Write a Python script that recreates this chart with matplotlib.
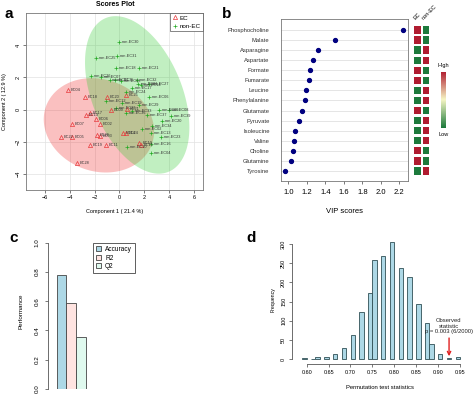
import numpy as np
import matplotlib
matplotlib.use("Agg")
import matplotlib.pyplot as plt
from matplotlib.patches import Rectangle, Patch
from matplotlib.lines import Line2D
from matplotlib.colors import LinearSegmentedColormap

plt.rcParams['font.family'] = ['Liberation Sans', 'DejaVu Sans']

# ---- a: PLS-DA scores ----
ec_x = [-4.1, -2.8, -1.0, 0.5, -0.7, 0.6, -2.4, -2.7, -1.9, -1.6, -3.8, -4.7, -3.8,
        -1.8, -1.6, -2.4, -1.1, -3.4, 0.3, 0.5, 1.6, 1.7]
ec_y = [1.2, 0.75, 0.8, 0.9, 0.0, 0.05, -0.2, -0.35, -0.6, -0.9, -0.9, -1.7, -1.7,
        -1.6, -1.65, -2.2, -2.2, -3.3, -1.45, -1.45, -2.1, -2.2]
ec_labels = ['EC04', 'EC18', 'EC20', 'EC25', 'EC09', 'EC21', 'EC17', 'EC13', 'EC06',
             'EC02', 'EC07', 'EC22', 'EC05', 'EC26', 'EC03', 'EC19', 'EC11', 'EC28',
             'EC14', 'EC24', 'EC10', 'EC15']

nonec_x = [0.0, -1.9, -0.2, -0.3, 1.6, -2.3, -1.5, -0.8, -0.4, 0.1, 1.4, 1.5, 2.4,
           1.7, 1.0, 0.5, 2.4, -1.1, 0.2, 1.6, 0.5, 1.0, 2.2, 3.2, 4.0, 4.1, 3.4, 2.6,
           1.8, 2.5, 3.3, 2.5, 2.5, 0.6, -0.3]
nonec_y = [4.2, 3.2, 3.3, 2.6, 2.6, 2.1, 2.0, 1.85, 1.85, 1.8, 1.85, 1.6, 1.6, 1.55,
           1.35, 1.1, 0.77, 0.5, 0.4, 0.3, -0.2, -0.1, -0.33, -0.05, -0.05, -0.4, -0.7,
           -1.05, -1.2, -1.43, -1.7, -2.15, -2.7, -2.3, 0.1]
nonec_labels = ['non-EC30', 'non-EC25', 'non-EC31', 'non-EC18', 'non-EC21', 'non-EC26',
                'non-EC07', 'non-EC11', 'non-EC35', 'non-EC03', 'non-EC32', 'non-EC01',
                'non-EC27', 'non-EC14', 'non-EC17', 'non-EC24', 'non-EC06', 'non-EC12',
                'non-EC19', 'non-EC29', 'non-EC36', 'non-EC33', 'non-EC37', 'non-EC09',
                'non-EC08', 'non-EC39', 'non-EC20', 'non-EC34', 'non-EC02', 'non-EC13',
                'non-EC23', 'non-EC16', 'non-EC04', 'non-EC10', 'non-EC22']

# confidence ellipses: centre and two conjugate semi-axis vectors (data units)
ec_ell = ((-1.65, -0.98), (4.24, -1.19), (1.27, 2.68))
nonec_ell = ((1.42, 0.91), (-2.51, 4.78), (3.35, 1.05))

# ---- b: VIP scores ----
metabolites = ['Phosphocholine', 'Malate', 'Asparagine', 'Aspartate', 'Formate',
               'Fumarate', 'Leucine', 'Phenylalanine', 'Glutamate', 'Pyruvate',
               'Isoleucine', 'Valine', 'Choline', 'Glutamine', 'Tyrosine']
vip_scores = [2.24, 1.51, 1.32, 1.27, 1.235, 1.224, 1.188, 1.185, 1.148, 1.119,
              1.076, 1.065, 1.047, 1.032, 0.968]
ec_high = [1, 1, 0, 0, 1, 1, 0, 0, 1, 0, 0, 0, 1, 1, 0]   # 1 = higher in EC
groups = ['EC', 'non-EC']

# ---- c: performance ----
perf_names = ['Accuracy', 'R2', 'Q2']
perf_values = [0.78, 0.585, 0.357]
perf_colors = ['#add8e6', '#ffe4e1', '#dff9ee']

# ---- d: permutation test ----
perm_bins = [0.595, 0.615, 0.625, 0.645, 0.665, 0.685, 0.705, 0.725, 0.745, 0.755,
             0.775, 0.795, 0.815, 0.835, 0.855, 0.875, 0.885, 0.905, 0.925, 0.945]
perm_counts = [2, 1, 4, 6, 13, 30, 62, 123, 172, 258, 270, 306, 237, 213, 143, 94,
               38, 13, 2, 4]
observed = 0.925
obs_text = 'Observed\nstatistic\np = 0.003 (6/2000)'

W, H = 474, 395
fig = plt.figure(figsize=(W / 100, H / 100), dpi=100)


def axes_px(l, t, r, b):
    return fig.add_axes([l / W, 1 - b / H, (r - l) / W, (b - t) / H])


def ftext(x, y, s, **kw):
    fig.text(x / W, 1 - y / H, s, **kw)


def ellipse_xy(ell):
    c, u, v = ell
    t = np.linspace(0, 2 * np.pi, 200)
    return (c[0] + u[0] * np.cos(t) + v[0] * np.sin(t),
            c[1] + u[1] * np.cos(t) + v[1] * np.sin(t))


tick_kw = dict(length=2, width=0.5, color='#444444', pad=1.5)

# ================= a =================
ax = axes_px(26, 13, 203, 190)
ax.set_xlim(-7.5, 6.7)
ax.set_ylim(-5.0, 6.0)
ax.set_xticks(range(-6, 7, 2))
ax.set_yticks(range(-4, 5, 2))
ax.grid(color='#e2e2e2', lw=0.5)
ax.set_axisbelow(True)
ex, ey = ellipse_xy(ec_ell)
ax.fill(ex, ey, color='#f03030', alpha=0.3, lw=0)
gx, gy = ellipse_xy(nonec_ell)
ax.fill(gx, gy, color='#33cc33', alpha=0.3, lw=0)
ax.plot(ec_x, ec_y, '^', ms=3, mfc='none', mec='#e8393c', mew=0.5, ls='none')
ax.plot(nonec_x, nonec_y, '+', ms=3, color='#22aa22', mew=0.5, ls='none')
for x, y, s in zip(ec_x, ec_y, ec_labels):
    ax.text(x + 0.22, y, s, fontsize=2.8, va='center', color='#333333')
for x, y, s in zip(nonec_x, nonec_y, nonec_labels):
    ax.text(x + 0.22, y, s, fontsize=2.8, va='center', color='#333333')
ax.tick_params(labelsize=4, **tick_kw)
for lab in ax.get_yticklabels():
    lab.set_rotation(90)
    lab.set_va('center')
for sp in ax.spines.values():
    sp.set_linewidth(0.6)
    sp.set_color('#777777')
handles = [Line2D([], [], marker='^', ls='none', ms=3, mfc='none', mec='#e8393c', mew=0.5),
           Line2D([], [], marker='+', ls='none', ms=3, color='#22aa22', mew=0.5)]
leg = ax.legend(handles, groups, loc='upper right', fontsize=4.5, fancybox=False,
                edgecolor='#555555', framealpha=1, borderpad=0.35, handletextpad=0.3,
                handlelength=1, borderaxespad=0)
leg.get_frame().set_linewidth(0.5)
ftext(115, 5, 'Scores Plot', fontsize=5, fontweight='bold', ha='center', va='center')
ftext(115, 212, 'Component 1 ( 21.4 %)', fontsize=4, ha='center', va='center')
ftext(5, 102, 'Component 2 ( 12.9 %)', fontsize=4, ha='center', va='center', rotation=90)

# ================= b =================
ax = axes_px(280.7, 19.3, 407.7, 181)
ypos = np.arange(len(metabolites), 0, -1)
ax.set_xlim(0.918, 2.29)
ax.set_ylim(0.007, 16.06)
for y in ypos:
    ax.axhline(y, color='#e0e0e0', lw=0.6, zorder=0)
ax.plot(vip_scores, ypos, 'o', color='#000080', ms=2.8, ls='none')
ax.set_xticks([1.0, 1.2, 1.4, 1.6, 1.8, 2.0, 2.2])
ax.set_xticklabels(['1.0', '1.2', '1.4', '1.6', '1.8', '2.0', '2.2'])
ax.set_yticks(ypos)
ax.set_yticklabels(metabolites)
ax.tick_params(axis='x', labelsize=5.5, length=2, width=0.5, color='#444444', pad=4)
ax.tick_params(axis='y', labelsize=4.2, length=0, pad=8, labelcolor='#333333')
for sp in ax.spines.values():
    sp.set_linewidth(0.6)
    sp.set_color('#777777')
ftext(344, 211.7, 'VIP scores', fontsize=5.5, ha='center', va='center')

hm = axes_px(414, 19.3, 430, 181)
hm.set_xlim(0, 2)
hm.set_ylim(0.007, 16.06)
hm.axis('off')
red, green = '#b01c30', '#1d7a3c'
for y, hi in zip(ypos, ec_high):
    hm.add_patch(Rectangle((0.05, y - 0.36), 0.84, 0.72, color=red if hi else green, lw=0))
    hm.add_patch(Rectangle((1.07, y - 0.36), 0.84, 0.72, color=green if hi else red, lw=0))
ftext(416, 21, groups[0], fontsize=4, rotation=45, ha='left', va='bottom', rotation_mode='anchor')
ftext(424, 21, groups[1], fontsize=4, rotation=45, ha='left', va='bottom', rotation_mode='anchor')

cmap = LinearSegmentedColormap.from_list('gr', ['#1d7a3c', '#f6f6c4', '#b01c30'])
cb = axes_px(441, 71.7, 446, 128)
cb.imshow(np.linspace(0, 1, 100)[:, None], cmap=cmap, aspect='auto', origin='lower')
cb.axis('off')
ftext(443.5, 66, 'High', fontsize=4, ha='center', va='center')
ftext(443.5, 134, 'Low', fontsize=4, ha='center', va='center')

# ================= c =================
ax = axes_px(48.3, 242.7, 235, 389)
ax.set_xlim(0.13, 19.4)
ax.set_ylim(0, 1)
xb = np.arange(len(perf_values)) + 1.5
ax.bar(xb, perf_values, width=1, color=perf_colors, edgecolor='#444444', lw=0.6)
for s in ['top', 'right', 'bottom']:
    ax.spines[s].set_visible(False)
ax.spines['left'].set_bounds(0, 1)
ax.spines['left'].set_linewidth(0.6)
ax.spines['left'].set_color('#555555')
ax.set_xticks([])
ax.set_yticks([0, 0.2, 0.4, 0.6, 0.8, 1.0])
ax.set_yticklabels(['0.0', '0.2', '0.4', '0.6', '0.8', '1.0'], rotation=90, va='center')
ax.tick_params(axis='y', labelsize=4.5, length=2.5, width=0.5, color='#444444', pad=4)
ftext(20.7, 311.7, 'Performance', fontsize=4.5, ha='center', va='center', rotation=90)
handles = [Patch(fc=c, ec='#444444', lw=0.6) for c in perf_colors]
leg = fig.legend(handles, perf_names, loc='upper left', bbox_to_anchor=(92.7 / W, 1 - 242.7 / H),
                 fontsize=4.7, fancybox=False, edgecolor='#444444', framealpha=1,
                 borderpad=0.5, handletextpad=0.6, handlelength=0.8, handleheight=0.8,
                 labelspacing=0.25, borderaxespad=0)
leg.get_frame().set_linewidth(0.6)

# ================= d =================
ax = axes_px(291.7, 238, 470, 364)
ax.set_xlim(0.5658, 0.9728)
ax.set_ylim(-13, 315.7)
ax.bar(perm_bins, perm_counts, width=0.0098, color='#add8e6', edgecolor='#2f4f55', lw=0.6)
for s in ['top', 'right']:
    ax.spines[s].set_visible(False)
ax.spines['bottom'].set_bounds(0.60, 0.95)
ax.spines['left'].set_bounds(0, 300)
for s in ['bottom', 'left']:
    ax.spines[s].set_linewidth(0.6)
    ax.spines[s].set_color('#555555')
ax.set_xticks([0.60, 0.65, 0.70, 0.75, 0.80, 0.85, 0.90, 0.95])
ax.set_xticklabels(['0.60', '0.65', '0.70', '0.75', '0.80', '0.85', '0.90', '0.95'])
ax.set_yticks([0, 50, 100, 150, 200, 250, 300])
ax.set_yticklabels(['0', '50', '100', '150', '200', '250', '300'], rotation=90, va='center')
ax.tick_params(labelsize=4, length=2, width=0.5, color='#444444', pad=2)
ax.annotate('', xy=(observed, 0), xytext=(observed, 62),
            arrowprops=dict(arrowstyle='->', color='#e02020', lw=1.0, mutation_scale=6))
ax.text(observed - 0.001, 86, obs_text, fontsize=4.2, ha='center', va='center',
        linespacing=1.1, color='#222222')
ftext(273.3, 300, 'Frequency', fontsize=3.8, ha='center', va='center', rotation=90)
ftext(380, 387.7, 'Permutation test statistics', fontsize=4.2, ha='center', va='center')

# panel letters
for x, y, s in [(8.7, 14, 'a'), (227, 13.5, 'b'), (14, 238.5, 'c'), (251, 238, 'd')]:
    ftext(x, y, s, fontsize=11, fontweight='bold', ha='center', va='center')

fig.savefig('out.png', dpi=100)
